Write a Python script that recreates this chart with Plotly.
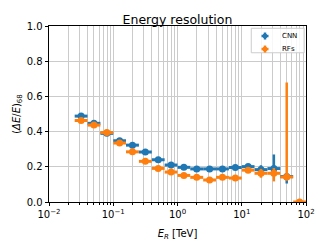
import plotly.graph_objects as go

# Energy bins (TeV): lower and upper edges
e_low = [0.0251, 0.0398, 0.0631, 0.1, 0.158, 0.251, 0.398, 0.631, 1.0, 1.58, 2.51, 3.98, 6.31, 10.0, 15.8, 25.1, 39.8, 63.1]
e_high = [0.0398, 0.0631, 0.1, 0.158, 0.251, 0.398, 0.631, 1.0, 1.58, 2.51, 3.98, 6.31, 10.0, 15.8, 25.1, 39.8, 63.1, 100.0]

cnn_res = [0.488, 0.447, 0.390, 0.348, 0.323, 0.284, 0.240, 0.210, 0.197, 0.188, 0.188, 0.188, 0.196, 0.201, 0.184, 0.190, 0.145, None]
cnn_err_up = [0.01, 0.01, 0.01, 0.01, 0.01, 0.01, 0.01, 0.01, 0.008, 0.008, 0.008, 0.008, 0.01, 0.015, 0.025, 0.08, 0.015, 0]
cnn_err_dn = [0.01, 0.01, 0.01, 0.01, 0.01, 0.01, 0.01, 0.01, 0.008, 0.008, 0.008, 0.008, 0.01, 0.015, 0.025, 0.02, 0.04, 0]

rf_res = [0.463, 0.437, 0.395, 0.335, 0.285, 0.231, 0.191, 0.170, 0.151, 0.140, 0.125, 0.140, 0.136, 0.181, 0.163, 0.163, 0.142, 0.0]
rf_err_up = [0.01, 0.01, 0.01, 0.01, 0.01, 0.01, 0.01, 0.01, 0.008, 0.008, 0.008, 0.008, 0.01, 0.015, 0.025, 0.03, 0.537, 0.005]
rf_err_dn = [0.01, 0.01, 0.01, 0.01, 0.01, 0.01, 0.01, 0.01, 0.008, 0.008, 0.008, 0.008, 0.01, 0.015, 0.025, 0.046, 0.02, 0.0]

series_names = ["CNN", "RFs"]
series_colors = ["#1f77b4", "#ff7f0e"]

x_ticks = [0.01, 0.1, 1, 10, 100]
x_ticktext = ["10<sup>−2</sup>", "10<sup>−1</sup>", "10<sup>0</sup>", "10<sup>1</sup>", "10<sup>2</sup>"]

centers = [(a * b) ** 0.5 for a, b in zip(e_low, e_high)]
xplus = [h - c for h, c in zip(e_high, centers)]
xminus = [c - l for l, c in zip(e_low, centers)]

FONT = "DejaVu Sans"
GRID = "#cbcbcb"
fig = go.Figure()

def add(name, y, up, dn, color):
    fig.add_trace(go.Scatter(
        x=centers, y=y, mode="markers", name=name, showlegend=False,
        marker=dict(color=color, size=7, symbol="circle"),
        error_x=dict(type="data", array=xplus, arrayminus=xminus, symmetric=False,
                     color=color, thickness=3, width=0),
        error_y=dict(type="data", array=up, arrayminus=dn, symmetric=False,
                     color=color, thickness=2.5, width=0),
    ))

add(series_names[0], cnn_res, cnn_err_up, cnn_err_dn, series_colors[0])
add(series_names[1], rf_res, rf_err_up, rf_err_dn, series_colors[1])

# Compact legend box (matplotlib-like), in paper coordinates
fig.add_shape(type="rect", xref="paper", yref="paper", x0=0.787, x1=0.993, y0=0.848, y1=0.987,
              line=dict(color="#cccccc", width=1), fillcolor="rgba(255,255,255,0.85)", layer="above")
leg_y = [0.943, 0.869]
sx, dx, dy, rx, ry = 0.8405, 0.0136, 0.0199, 0.0097, 0.0142
for name, color, ly in zip(series_names, series_colors, leg_y):
    fig.add_shape(type="line", xref="paper", yref="paper", x0=sx - dx, x1=sx + dx, y0=ly, y1=ly,
                  line=dict(color=color, width=2.5), layer="above")
    fig.add_shape(type="line", xref="paper", yref="paper", x0=sx, x1=sx, y0=ly - dy, y1=ly + dy,
                  line=dict(color=color, width=2.5), layer="above")
    fig.add_shape(type="circle", xref="paper", yref="paper", x0=sx - rx, x1=sx + rx, y0=ly - ry, y1=ly + ry,
                  line=dict(color=color, width=0), fillcolor=color, layer="above")
    fig.add_annotation(text=name, xref="paper", yref="paper", x=0.898, y=ly, xanchor="left",
                       yanchor="middle", showarrow=False, font=dict(size=7, family=FONT))

fig.update_layout(
    width=319, height=238,
    margin=dict(l=41, r=21, t=18, b=44, autoexpand=False),
    paper_bgcolor="white", plot_bgcolor="white",
    font=dict(family=FONT, size=10, color="black"),
    title=dict(text="Energy resolution", x=0.5, xref="paper", xanchor="center",
               y=1, yref="paper", yanchor="bottom", pad=dict(b=2),
               font=dict(size=12.5, family=FONT), automargin=False),
    showlegend=False,
)
fig.update_xaxes(
    type="log", range=[-2, 2], automargin=False,
    tickvals=x_ticks, ticktext=x_ticktext,
    showgrid=True, gridcolor=GRID, gridwidth=0.8,
    minor=dict(showgrid=True, gridcolor=GRID, gridwidth=0.8, ticks="outside", ticklen=2,
               tickcolor="black", dtick="D1"),
    ticks="outside", ticklen=3.5, tickcolor="black",
    showline=True, linecolor="black", linewidth=0.8, mirror=True,
    zeroline=False,
    title=dict(text="<i>E<sub>R</sub></i> [TeV]", font=dict(size=10), standoff=10),
    tickfont=dict(size=10),
)
fig.update_yaxes(
    range=[0, 1], tickvals=[0, 0.2, 0.4, 0.6, 0.8, 1.0], automargin=False,
    ticktext=["0.0", "0.2", "0.4", "0.6", "0.8", "1.0"],
    showgrid=True, gridcolor=GRID, gridwidth=0.8,
    ticks="outside", ticklen=3.5, tickcolor="black",
    showline=True, linecolor="black", linewidth=0.8, mirror=True,
    zeroline=False,
    title=dict(text="(<i>ΔE</i>/<i>E</i>)<sub>68</sub>", font=dict(size=10), standoff=4),
    tickfont=dict(size=10),
)

fig.write_html("out.html")
